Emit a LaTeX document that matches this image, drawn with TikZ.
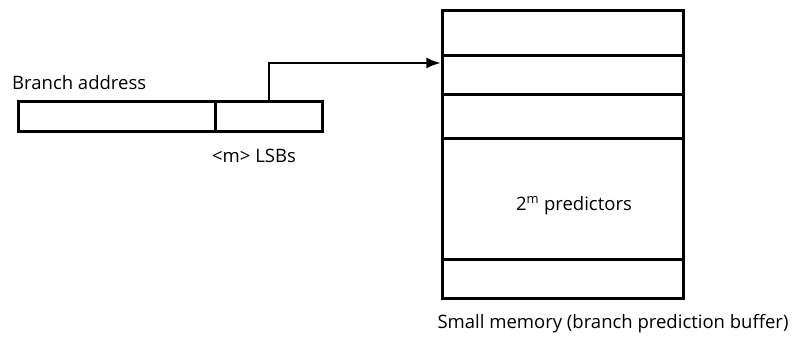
\documentclass[tikz,border=0pt]{standalone}
\usepackage{fontspec}
\setmainfont{Open Sans}
\usetikzlibrary{arrows.meta,positioning,calc}

\begin{document}
\begin{tikzpicture}[x=1pt, y=-1pt, >=Latex,
  field/.style={draw, line width=2.6pt, minimum height=30pt, inner sep=0pt, anchor=north west},
  slot/.style={draw, line width=2.6pt, minimum width=241pt, inner sep=0pt, anchor=north west},
  lbl/.style={font=\fontsize{18.5}{20}\selectfont, inner sep=0pt}]
\useasboundingbox (0,0) rectangle (794,341);

% Branch address register
\node[field, minimum width=197pt] (high) at (17,100) {};
\node[field, minimum width=107pt] (lsb) at (214,100) {};
\node[lbl, anchor=base west] (addr) at (12,89) {Branch address};
\node[lbl, anchor=base] (lsbtext) at (254,162) {<m> LSBs};

% Prediction buffer
\node[slot, minimum height=45pt] (row1) at (441,9) {};
\node[slot, minimum height=39pt] (row2) at (441,54) {};
\node[slot, minimum height=44pt] (row3) at (441,93) {};
\node[slot, minimum height=121pt] (row4) at (441,137) {};
\node[slot, minimum height=39pt] (row5) at (441,258) {};
\node[lbl, anchor=base] (pred) at (574,210) {2\textsuperscript{m} predictors};
\node[lbl, anchor=base] (caption) at (613,328) {Small memory (branch prediction buffer)};

% Index path
\coordinate (bend) at (lsb.north |- 0,63);
\draw[->, line width=2.6pt] (lsb.north) -- (bend) -- (row2.west |- bend);
\end{tikzpicture}
\end{document}
